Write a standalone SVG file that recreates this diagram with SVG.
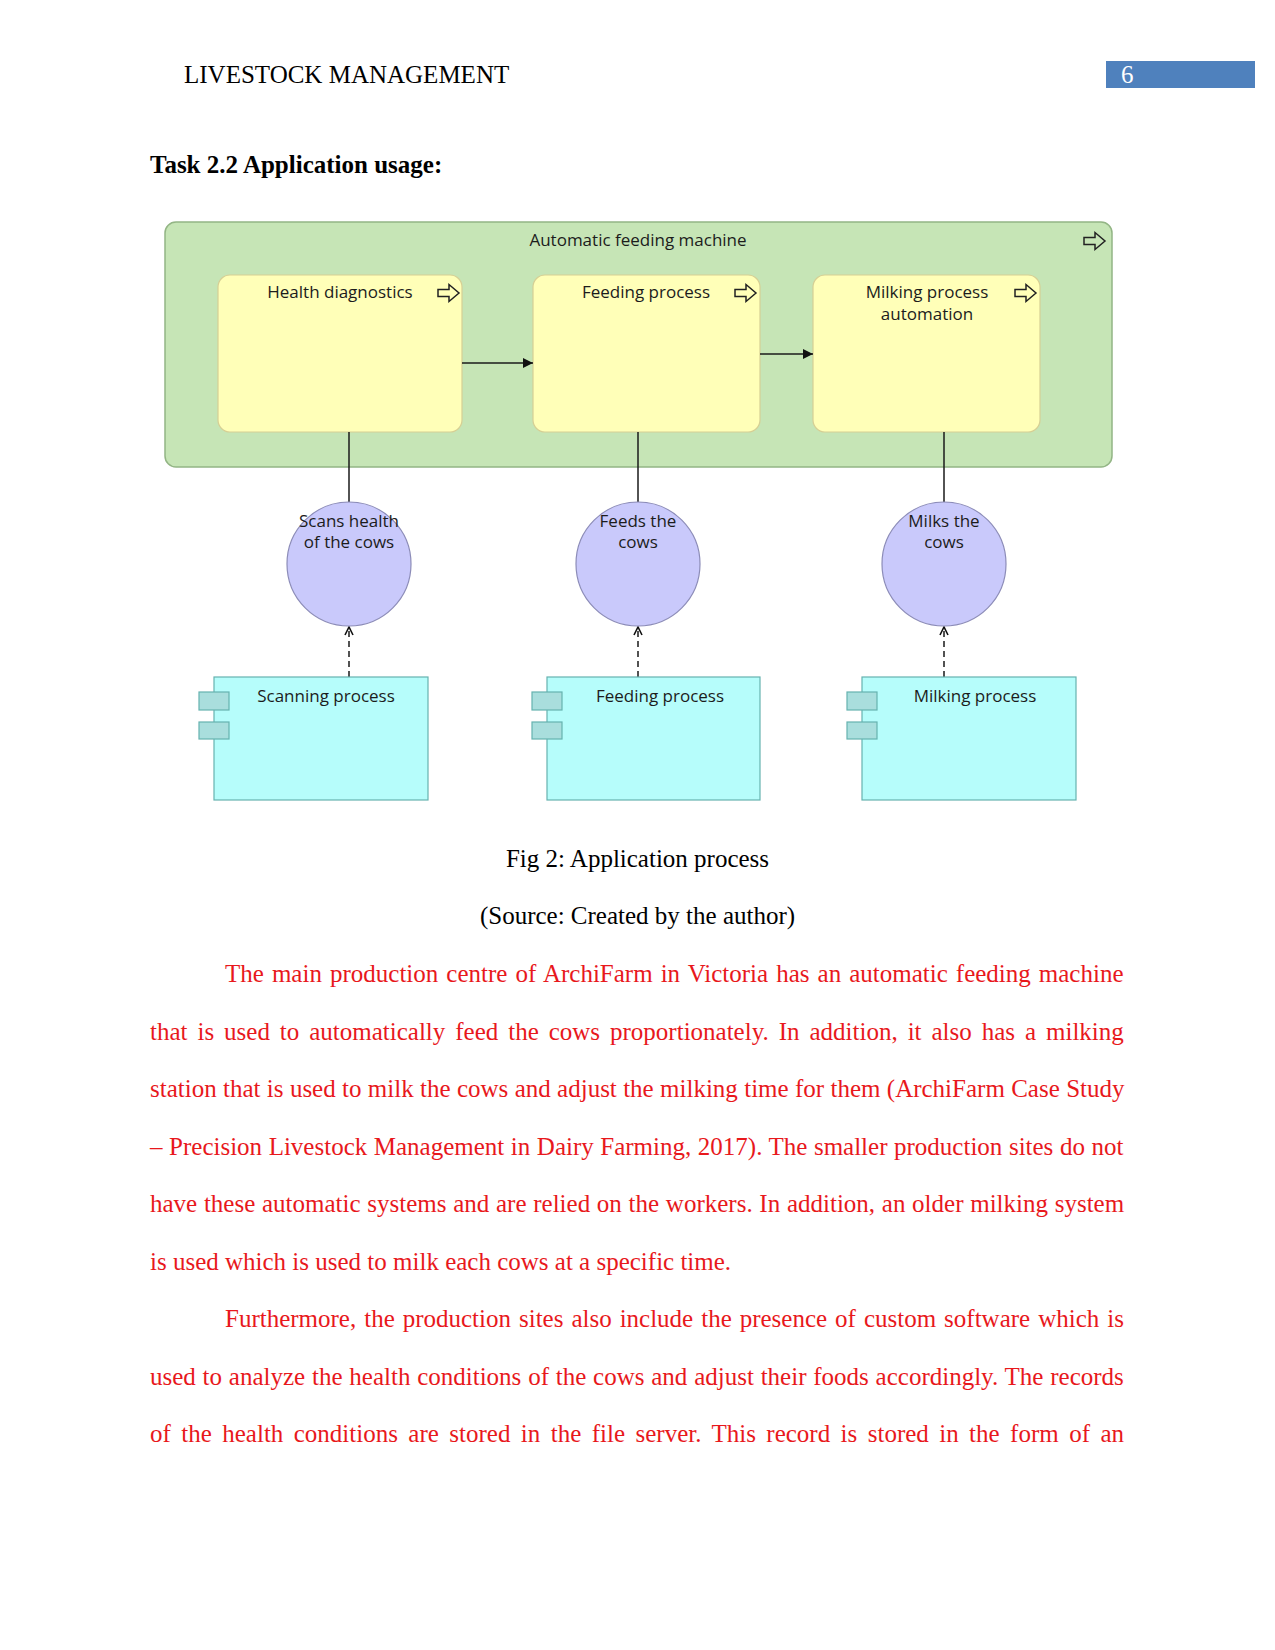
<svg xmlns="http://www.w3.org/2000/svg" width="1275" height="1650" viewBox="0 0 1275 1650">
<style>
.serif{font-family:"Liberation Serif","Times New Roman",serif;font-size:25px;fill:#000}
.body{font-family:"Liberation Serif","Times New Roman",serif;font-size:25px;fill:#e8181c}
.lbl{font-family:"Open Sans","Noto Sans","DejaVu Sans",sans-serif;font-size:17px;fill:#1c1c1c;text-anchor:middle}
.cont{fill:#c6e5b6;stroke:#93b585;stroke-width:1.5}
.proc{fill:#ffffb8;stroke:#d6cf94;stroke-width:1.2}
.svc{fill:#c9c9fb;stroke:#8c8cb8;stroke-width:1.2}
.comp{fill:#b6fdfb;stroke:#66b2b0;stroke-width:1.2}
.port{fill:#a9dedd;stroke:#66b2b0;stroke-width:1.2}
.icon{fill:none;stroke:#222;stroke-width:1.5;stroke-linejoin:miter}
.solid{stroke:#1a1a1a;stroke-width:1.5;fill:none}
.dash{stroke:#1a1a1a;stroke-width:1.5;fill:none;stroke-dasharray:6 4}
</style>
<defs>
<marker id="tri" viewBox="0 0 10 10" refX="10" refY="5" markerWidth="10" markerHeight="10" markerUnits="userSpaceOnUse" orient="auto">
<path d="M0,0 L10,5 L0,10 z" fill="#111"/>
</marker>
<marker id="open" viewBox="0 0 10 10" refX="9" refY="5" markerWidth="10" markerHeight="10" markerUnits="userSpaceOnUse" orient="auto">
<path d="M1,1 L9,5 L1,9" fill="none" stroke="#111" stroke-width="1.6"/>
</marker>
<path id="ar" d="M0,-3.5 h11 v-5 l10,8.5 l-10,8.5 v-5 h-11 z"/>
</defs>
<rect width="1275" height="1650" fill="#fff"/>

<g id="header">
<text class="serif" x="184" y="83">LIVESTOCK MANAGEMENT</text>
<rect x="1106" y="61" width="149" height="27" fill="#4f81bd"/>
<text class="serif" x="1121" y="83" style="fill:#fff">6</text>
<text class="serif" x="150" y="173" font-weight="bold">Task 2.2 Application usage:</text>
</g>

<g id="automatic-feeding-machine">
<rect class="cont" x="165" y="222" width="947" height="245" rx="11"/>
<text class="lbl" x="638" y="246">Automatic feeding machine</text>
<use href="#ar" class="icon" x="1084" y="241"/>
</g>

<g id="health-diagnostics">
<rect class="proc" x="218" y="275" width="244" height="157" rx="12"/>
<text class="lbl" x="340" y="298">Health diagnostics</text>
<use href="#ar" class="icon" x="438" y="293"/>
</g>

<g id="feeding-process-auto">
<rect class="proc" x="533" y="275" width="227" height="157" rx="12"/>
<text class="lbl" x="646" y="298">Feeding process</text>
<use href="#ar" class="icon" x="735" y="293"/>
</g>

<g id="milking-process-automation">
<rect class="proc" x="813" y="275" width="227" height="157" rx="12"/>
<text class="lbl" x="927" y="298">Milking process</text>
<text class="lbl" x="927" y="320">automation</text>
<use href="#ar" class="icon" x="1015" y="293"/>
</g>

<g id="connectors">
<line class="solid" x1="462" y1="363" x2="533" y2="363" marker-end="url(#tri)"/>
<line class="solid" x1="760" y1="354" x2="813" y2="354" marker-end="url(#tri)"/>
<line class="solid" x1="349" y1="432" x2="349" y2="502"/>
<line class="solid" x1="638" y1="432" x2="638" y2="502"/>
<line class="solid" x1="944" y1="432" x2="944" y2="502"/>
<line class="dash" x1="349" y1="677" x2="349" y2="627" marker-end="url(#open)"/>
<line class="dash" x1="638" y1="677" x2="638" y2="627" marker-end="url(#open)"/>
<line class="dash" x1="944" y1="677" x2="944" y2="627" marker-end="url(#open)"/>
</g>

<g id="scans-health">
<circle class="svc" cx="349" cy="564" r="62"/>
<text class="lbl" x="349" y="527">Scans health</text>
<text class="lbl" x="349" y="548">of the cows</text>
</g>

<g id="feeds-the-cows">
<circle class="svc" cx="638" cy="564" r="62"/>
<text class="lbl" x="638" y="527">Feeds the</text>
<text class="lbl" x="638" y="548">cows</text>
</g>

<g id="milks-the-cows">
<circle class="svc" cx="944" cy="564" r="62"/>
<text class="lbl" x="944" y="527">Milks the</text>
<text class="lbl" x="944" y="548">cows</text>
</g>

<g id="scanning-process">
<rect class="comp" x="214" y="677" width="214" height="123"/>
<rect class="port" x="199" y="692" width="30" height="18"/>
<rect class="port" x="199" y="722" width="30" height="17"/>
<text class="lbl" x="326" y="702">Scanning process</text>
</g>

<g id="feeding-process">
<rect class="comp" x="547" y="677" width="213" height="123"/>
<rect class="port" x="532" y="692" width="30" height="18"/>
<rect class="port" x="532" y="722" width="30" height="17"/>
<text class="lbl" x="660" y="702">Feeding process</text>
</g>

<g id="milking-process">
<rect class="comp" x="862" y="677" width="214" height="123"/>
<rect class="port" x="847" y="692" width="30" height="18"/>
<rect class="port" x="847" y="722" width="30" height="17"/>
<text class="lbl" x="975" y="702">Milking process</text>
</g>

<g id="caption">
<text class="serif" x="637.5" y="867" text-anchor="middle">Fig 2: Application process</text>
<text class="serif" x="637.5" y="924" text-anchor="middle">(Source: Created by the author)</text>
</g>

<g id="body-text">
<text class="body" x="225" y="982" word-spacing="1.8">The main production centre of ArchiFarm in Victoria has an automatic feeding machine</text>
<text class="body" x="150" y="1039.5" word-spacing="3.7">that is used to automatically feed the cows proportionately. In addition, it also has a milking</text>
<text class="body" x="150" y="1097" word-spacing="0.1">station that is used to milk the cows and adjust the milking time for them (ArchiFarm Case Study</text>
<text class="body" x="150" y="1154.5" word-spacing="0.3">– Precision Livestock Management in Dairy Farming, 2017). The smaller production sites do not</text>
<text class="body" x="150" y="1212" word-spacing="0.47">have these automatic systems and are relied on the workers. In addition, an older milking system</text>
<text class="body" x="150" y="1269.5">is used which is used to milk each cows at a specific time.</text>
<text class="body" x="225" y="1327" word-spacing="1.72">Furthermore, the production sites also include the presence of custom software which is</text>
<text class="body" x="150" y="1384.5" word-spacing="0.54">used to analyze the health conditions of the cows and adjust their foods accordingly. The records</text>
<text class="body" x="150" y="1442" word-spacing="4.19">of the health conditions are stored in the file server. This record is stored in the form of an</text>
</g>
</svg>
